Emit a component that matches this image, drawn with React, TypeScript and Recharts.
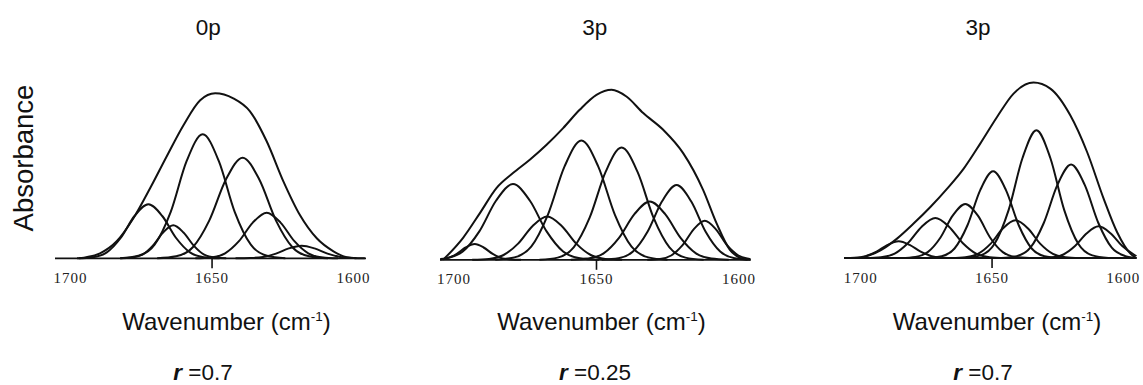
import React from 'react';
import { LineChart, Line, XAxis, YAxis } from 'recharts';

type Pt = [number, number];

// ---------- shared labels ----------
const titles = ['0p', '3p', '3p'];
const rValues = ['0.7', '0.25', '0.7'];
const tickValues = [1700, 1650, 1600];
const markedTick = 1650;

// ---------- Panel 1 (0p, r = 0.7): [wavenumber, absorbance] ----------
const p1Envelope: Pt[] = [[1697, 0], [1689.6, 0.05], [1683.7, 0.17], [1677.8, 0.4], [1671.9, 0.7], [1666, 1.02], [1660.1, 1.33], [1654.2, 1.58], [1648.9, 1.65], [1642.5, 1.6], [1636.6, 1.47], [1630.7, 1.17], [1624.8, 0.77], [1618.9, 0.43], [1613, 0.2], [1607.1, 0.07], [1602.4, 0.01], [1599, 0]];
const p1Band1: Pt[] = [[1697.7, 0], [1692.1, 0.011], [1687.2, 0.059], [1682.3, 0.203], [1677.4, 0.423], [1672.5, 0.54], [1667.6, 0.423], [1662.7, 0.203], [1657.8, 0.059], [1652.9, 0.011], [1647.3, 0]];
const p1Band2: Pt[] = [[1682.4, 0], [1678.3, 0.007], [1674.6, 0.036], [1671, 0.124], [1667.3, 0.258], [1663.7, 0.33], [1660.1, 0.258], [1656.4, 0.124], [1652.8, 0.036], [1649.1, 0.007], [1645, 0]];
const p1Band3: Pt[] = [[1682.5, 0], [1676, 0.025], [1670.3, 0.136], [1664.6, 0.465], [1659, 0.971], [1653.3, 1.24], [1647.6, 0.971], [1642, 0.465], [1636.3, 0.136], [1630.6, 0.025], [1624.1, 0]];
const p1Band4: Pt[] = [[1669.4, 0], [1662.7, 0.02], [1656.8, 0.111], [1651, 0.377], [1645.1, 0.788], [1639.2, 1.006], [1633.3, 0.788], [1627.4, 0.377], [1621.6, 0.111], [1615.7, 0.02], [1609, 0]];
const p1Band5: Pt[] = [[1655.9, 0], [1650.3, 0.009], [1645.4, 0.05], [1640.5, 0.171], [1635.6, 0.357], [1630.7, 0.456], [1625.8, 0.357], [1620.9, 0.171], [1616, 0.05], [1611.1, 0.009], [1605.5, 0]];
const p1Band6: Pt[] = [[1641.7, 0], [1636.5, 0.003], [1632, 0.014], [1627.4, 0.047], [1622.9, 0.099], [1618.3, 0.126], [1613.8, 0.099], [1609.2, 0.047], [1604.7, 0.014], [1600.1, 0.003], [1596, 0]];

// ---------- Panel 2 (3p, r = 0.25) ----------
const p2Envelope: Pt[] = [[1703.8, 0], [1696.8, 0.22], [1690.9, 0.467], [1685.1, 0.717], [1679.3, 0.867], [1673.4, 1.0], [1667.5, 1.15], [1661.7, 1.317], [1655.9, 1.5], [1650, 1.65], [1644.7, 1.7], [1639.5, 1.633], [1633.6, 1.467], [1626.6, 1.3], [1619.6, 1.067], [1612.6, 0.7], [1607.9, 0.367], [1603.2, 0.1], [1599.7, 0.02], [1597, 0]];
const p2Band1: Pt[] = [[1704.8, 0.003], [1702.2, 0.017], [1699, 0.059], [1695.9, 0.123], [1692.7, 0.157], [1689.6, 0.123], [1686.4, 0.059], [1683.3, 0.017], [1680.1, 0.003], [1676.5, 0]];
const p2Band2: Pt[] = [[1704.8, 0.007], [1702.8, 0.015], [1696.9, 0.083], [1691.1, 0.284], [1685.2, 0.593], [1679.3, 0.757], [1673.4, 0.593], [1667.5, 0.284], [1661.7, 0.083], [1655.8, 0.015], [1649.1, 0]];
const p2Band3: Pt[] = [[1693.6, 0], [1687.7, 0.009], [1682.6, 0.048], [1677.5, 0.162], [1672.4, 0.339], [1667.3, 0.433], [1662.2, 0.339], [1657.1, 0.162], [1652, 0.048], [1646.9, 0.009], [1641, 0]];
const p2Band4: Pt[] = [[1685.5, 0], [1678.8, 0.024], [1672.9, 0.131], [1667.1, 0.447], [1661.2, 0.934], [1655.3, 1.193], [1649.4, 0.934], [1643.5, 0.447], [1637.7, 0.131], [1631.8, 0.024], [1625.1, 0]];
const p2Band5: Pt[] = [[1670, 0], [1663.6, 0.022], [1658, 0.124], [1652.4, 0.421], [1646.8, 0.879], [1641.2, 1.123], [1635.6, 0.879], [1630, 0.421], [1624.4, 0.124], [1618.8, 0.022], [1612.4, 0]];
const p2Band6: Pt[] = [[1659, 0], [1652.9, 0.012], [1647.5, 0.064], [1642.1, 0.219], [1636.7, 0.456], [1631.3, 0.583], [1625.9, 0.456], [1620.5, 0.219], [1615.1, 0.064], [1609.7, 0.012], [1603.6, 0]];
const p2Band7: Pt[] = [[1648.2, 0], [1642.3, 0.015], [1637.2, 0.082], [1632.1, 0.28], [1627, 0.585], [1621.9, 0.747], [1616.8, 0.585], [1611.7, 0.28], [1606.6, 0.082], [1601.5, 0.015], [1596, 0]];
const p2Band8: Pt[] = [[1632.2, 0], [1627.7, 0.008], [1623.8, 0.043], [1619.8, 0.146], [1615.9, 0.305], [1612, 0.39], [1608.1, 0.305], [1604.2, 0.146], [1600.2, 0.043], [1596.3, 0.008], [1596, 0.006]];

// ---------- Panel 3 (3p, r = 0.7) ----------
const p3Envelope: Pt[] = [[1701, 0], [1698.9, 0.01], [1692.5, 0.077], [1686.2, 0.194], [1679.9, 0.344], [1673.5, 0.51], [1667.1, 0.694], [1660.8, 0.894], [1654.5, 1.144], [1648.1, 1.41], [1641.8, 1.644], [1634.2, 1.754], [1627.8, 1.694], [1620.2, 1.427], [1613.8, 1.06], [1607.5, 0.594], [1602.4, 0.26], [1597.3, 0.044], [1595.2, 0]];
const p3Band1: Pt[] = [[1706.3, 0], [1702.4, 0.003], [1698.2, 0.018], [1694, 0.063], [1689.8, 0.131], [1685.6, 0.167], [1681.4, 0.131], [1677.2, 0.063], [1673, 0.018], [1668.8, 0.003], [1664, 0]];
const p3Band2: Pt[] = [[1698.2, 0], [1692.3, 0.008], [1687.1, 0.044], [1682, 0.15], [1676.8, 0.313], [1671.6, 0.4], [1666.4, 0.313], [1661.2, 0.15], [1656.1, 0.044], [1650.9, 0.008], [1645, 0]];
const p3Band3: Pt[] = [[1684.7, 0], [1679.2, 0.011], [1674.5, 0.059], [1669.7, 0.203], [1665, 0.423], [1660.2, 0.54], [1655.4, 0.423], [1650.7, 0.203], [1645.9, 0.059], [1641.2, 0.011], [1635.7, 0]];
const p3Band4: Pt[] = [[1674.8, 0], [1669.2, 0.017], [1664.3, 0.095], [1659.4, 0.325], [1654.5, 0.679], [1649.6, 0.867], [1644.7, 0.679], [1639.8, 0.325], [1634.9, 0.095], [1630, 0.017], [1624.4, 0]];
const p3Band5: Pt[] = [[1665.6, 0], [1660.1, 0.008], [1655.4, 0.041], [1650.6, 0.141], [1645.9, 0.295], [1641.1, 0.377], [1636.3, 0.295], [1631.6, 0.141], [1626.8, 0.041], [1622.1, 0.008], [1616.6, 0]];
const p3Band6: Pt[] = [[1660.5, 0], [1654.4, 0.026], [1649.1, 0.14], [1643.7, 0.479], [1638.4, 1.0], [1633.1, 1.277], [1627.8, 1.0], [1622.5, 0.479], [1617.1, 0.14], [1611.8, 0.026], [1605.7, 0]];
const p3Band7: Pt[] = [[1646.5, 0], [1640.6, 0.019], [1635.4, 0.103], [1630.3, 0.35], [1625.1, 0.731], [1619.9, 0.934], [1614.7, 0.731], [1609.5, 0.35], [1604.4, 0.103], [1599.2, 0.019], [1595, 0]];
const p3Band8: Pt[] = [[1632.4, 0], [1627.3, 0.006], [1622.8, 0.035], [1618.4, 0.119], [1613.9, 0.248], [1609.4, 0.317], [1604.9, 0.248], [1600.4, 0.119], [1596, 0.035], [1595, 0.02]];

const toPts = (a: Pt[]) => a.map(([x, y]) => ({ x, y }));

const panelCurves: Pt[][][] = [
  [p1Envelope, p1Band1, p1Band2, p1Band3, p1Band4, p1Band5, p1Band6],
  [p2Envelope, p2Band1, p2Band2, p2Band3, p2Band4, p2Band5, p2Band6, p2Band7, p2Band8],
  [p3Envelope, p3Band1, p3Band2, p3Band3, p3Band4, p3Band5, p3Band6, p3Band7, p3Band8],
];
const panelDomains: [number, number][] = [
  [1595.6, 1705.5],
  [1595.9, 1704.9],
  [1594.9, 1706.4],
];

// ---------- layout ----------
const W = 1143;
const H = 385;
const Y_MAX = 1.8;
const PLOT_H = 180;
const AXIS_H = 30;
const INK = '#111';

const layouts = [
  { left: 0, width: 390, plotLeft: 55, plotRight: 366, baseline: 258.3, titleX: 208.3, labelX: 226.5, rX: 203 },
  { left: 390, width: 390, plotLeft: 440, plotRight: 750.7, baseline: 259.8, titleX: 594.7, labelX: 601.5, rX: 595 },
  { left: 780, width: 363, plotLeft: 844, plotRight: 1136.7, baseline: 258, titleX: 978, labelX: 997, rX: 983 },
];

const AxisTick = (props: any) => {
  const { x, y, payload } = props;
  const axisY = y - 10;
  return (
    <g>
      {payload.value === markedTick && (
        <line x1={x} x2={x} y1={axisY} y2={axisY + 10} stroke={INK} strokeWidth={1.6} />
      )}
      <text
        x={x}
        y={axisY + 24.5}
        textAnchor="middle"
        fontFamily="'Liberation Serif', 'Times New Roman', serif"
        fontSize={15}
        letterSpacing={1}
        fill="#222"
      >
        {payload.value}
      </text>
    </g>
  );
};

const SANS = "'Liberation Sans', Arial, Helvetica, sans-serif";

export default function App() {
  return (
    <div style={{ position: 'absolute', left: 0, top: 0, width: W, height: H, background: '#fff' }}>
      {layouts.map((L, i) => {
        const margin = {
          left: L.plotLeft - L.left,
          right: L.left + L.width - L.plotRight,
          top: L.baseline - PLOT_H,
          bottom: H - L.baseline - AXIS_H,
        };
        return (
          <div key={i} style={{ position: 'absolute', left: L.left, top: 0 }}>
            <LineChart width={L.width} height={H} margin={margin}>
              <XAxis
                type="number"
                dataKey="x"
                domain={panelDomains[i]}
                reversed
                ticks={tickValues}
                interval={0}
                tickLine={false}
                tickSize={10}
                tickMargin={0}
                height={AXIS_H}
                axisLine={{ stroke: INK, strokeWidth: 1.8 }}
                tick={<AxisTick />}
              />
              <YAxis hide type="number" domain={[0, Y_MAX]} />
              {panelCurves[i].map((c, j) => (
                <Line
                  key={j}
                  data={toPts(c)}
                  dataKey="y"
                  type="monotone"
                  stroke={INK}
                  strokeWidth={2}
                  dot={false}
                  activeDot={false}
                  isAnimationActive={false}
                />
              ))}
            </LineChart>
          </div>
        );
      })}
      <svg
        width={W}
        height={H}
        style={{ position: 'absolute', left: 0, top: 0, pointerEvents: 'none' }}
      >
        <text
          transform="translate(33,158) rotate(-90)"
          textAnchor="middle"
          fontFamily={SANS}
          fontSize={27.5}
          fill={INK}
        >
          Absorbance
        </text>
        {layouts.map((L, i) => (
          <g key={i} fontFamily={SANS} fill={INK}>
            <text x={L.titleX} y={35} textAnchor="middle" fontSize={22.5}>
              {titles[i]}
            </text>
            <text x={L.labelX} y={330} textAnchor="middle" fontSize={24}>
              Wavenumber (cm
              <tspan fontSize={13.5} dy={-9.5}>-1</tspan>
              <tspan dy={9.5}>)</tspan>
            </text>
            <text x={L.rX} y={380} textAnchor="middle" fontSize={22.5}>
              <tspan fontWeight="bold" fontStyle="italic">r</tspan> ={rValues[i]}
            </text>
          </g>
        ))}
      </svg>
    </div>
  );
}
